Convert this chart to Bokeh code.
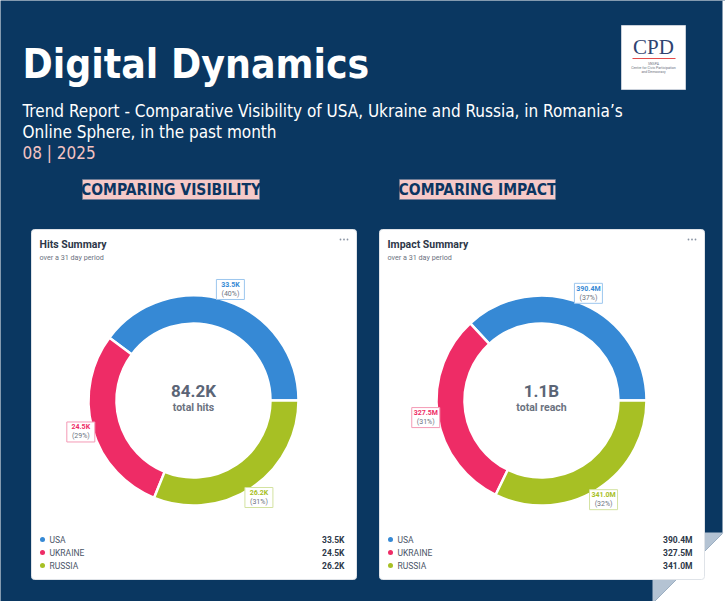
import numpy as np
from bokeh.plotting import figure
from bokeh.models import ColumnDataSource, Label, BoxAnnotation, PolyAnnotation
from bokeh.core.properties import value
from bokeh.embed import file_html
from bokeh.resources import INLINE

W, H = 725, 601
NAVY = "#0a3761"

# Series shared by both cards
countries = ["USA", "UKRAINE", "RUSSIA"]
country_colors = ["#3689d5", "#ee2c66", "#a7c024"]
box_borders = ["#9cc6ee", "#f49ab5", "#d3e2a0"]

# Hits (thousands)
hits_k = [33.5, 24.5, 26.2]
hits_text = ["33.5K", "24.5K", "26.2K"]
hits_total = "84.2K"

# Reach (millions)
reach_m = [390.4, 327.5, 341.0]
reach_text = ["390.4M", "327.5M", "341.0M"]
reach_total = "1.1B"

HEAD_FONT = "DejaVu Sans Condensed"
UI_FONT = "Roboto"


def Y(y):
    # page coordinates run top-down, the plot's y axis runs bottom-up
    return H - y


p = figure(width=W, height=H, x_range=(0, W), y_range=(0, H),
           output_backend="svg", toolbar_location=None,
           x_axis_location=None, y_axis_location=None, min_border=0)
p.grid.visible = False
p.outline_line_color = None
p.background_fill_color = NAVY
p.border_fill_color = NAVY


def label(x, y, text, size, color, font=UI_FONT, style="normal",
          align="left", baseline="middle"):
    p.add_layout(Label(x=x, y=Y(y), text=text, text_font=font,
                       text_font_size=f"{size}px", text_font_style=style,
                       text_color=color, text_align=align,
                       text_baseline=baseline))


# page edge and folded corner
p.add_layout(BoxAnnotation(left=722, right=W, top=H, bottom=0,
                           fill_color="white", fill_alpha=1, line_alpha=0,
                           level="underlay"))
p.add_layout(PolyAnnotation(xs=[723, W, W, 654], ys=[Y(532), Y(532), 0, 0],
                            fill_color="white", fill_alpha=1, line_alpha=0,
                            level="underlay"))
p.add_layout(PolyAnnotation(xs=[652, 723, 652], ys=[Y(532), Y(532), Y(603)],
                            fill_color="#b4c3d3", fill_alpha=1, line_alpha=0,
                            level="underlay"))

# Header
label(22, 63, "Digital Dynamics", 40.5, "white", HEAD_FONT, "bold")
label(22, 110, "Trend Report - Comparative Visibility of USA, Ukraine and Russia, in Romania\u2019s",
      17, "white", HEAD_FONT)
label(22, 131, "Online Sphere, in the past month", 17, "white", HEAD_FONT)
label(22, 152, "08 | 2025", 17, "#f3c3c1", HEAD_FONT)

# CPD logo
p.add_layout(BoxAnnotation(left=621, right=685, top=Y(25), bottom=Y(89),
                           fill_color="white", fill_alpha=1,
                           line_color="#c9d0da", line_alpha=1, line_width=1,
                           level="underlay"))
label(653, 46, "CPD", 21, "#2f4371", "Liberation Serif", "normal", "center")
p.line(x=[632, 675], y=[Y(58), Y(58)], line_color="#e24a4a", line_width=1)
label(653, 63, "SNSPA", 3.5, "#6b7280", align="center")
label(653, 67, "Centre for Civic Participation", 3.5, "#6b7280", align="center")
label(653, 71, "and Democracy", 3.5, "#6b7280", align="center")

# Section headings
for left, right, text in [(82, 259, "COMPARING VISIBILITY"),
                          (399, 555, "COMPARING IMPACT")]:
    p.add_layout(BoxAnnotation(left=left, right=right, top=Y(179), bottom=Y(199),
                               fill_color="#f5c9c8", fill_alpha=1,
                               line_color="#6d7c96", line_alpha=1, line_width=0.8,
                               level="underlay"))
    label((left + right) / 2, 189.5, text, 15.5, "#0b3561", HEAD_FONT, "bold", "center")


def card(x0, title, vals, val_text, total, caption):
    top, bottom = 229, 579
    p.add_layout(BoxAnnotation(left=x0, right=x0 + 325, top=Y(top), bottom=Y(bottom),
                               fill_color="white", fill_alpha=1,
                               line_color="#dfe3e8", line_alpha=1, line_width=1,
                               border_radius=3, level="underlay"))
    label(x0 + 8, 244, title, 10.5, "#2d3748", style="bold")
    label(x0 + 8, 257, "over a 31 day period", 7.2, "#6b7280")
    p.scatter(x=[x0 + 309, x0 + 312.5, x0 + 316], y=[Y(239)] * 3, size=1.8,
              fill_color="#8a94a3", line_color=None)

    cx, cy = x0 + 162, 400
    v = np.array(vals, dtype=float)
    frac = v / v.sum()
    ends = 2 * np.pi * np.cumsum(frac)
    starts = ends - 2 * np.pi * frac
    mids = (starts + ends) / 2
    pct = [f"({round(f * 100)}%)" for f in frac]

    ring = ColumnDataSource(dict(start=starts, end=ends, color=country_colors))
    p.annular_wedge(x=cx, y=Y(cy), inner_radius=77, outer_radius=105,
                    start_angle="start", end_angle="end", direction="anticlock",
                    fill_color="color", line_color="white", line_width=2.5,
                    source=ring)

    r_lab = 117
    bx = cx + r_lab * np.cos(mids)
    by = Y(cy) + r_lab * np.sin(mids)
    tags = ColumnDataSource(dict(x=bx, y=by, top=by + 4.5, bot=by - 4.5,
                                 val=val_text, pct=pct, color=country_colors,
                                 border=box_borders))
    p.rect(x="x", y="y", width=28, height=20, width_units="screen",
           height_units="screen", fill_color="white", line_color="border",
           line_width=1, source=tags)
    p.text(x="x", y="top", text="val", text_color="color", source=tags,
           text_font=value(UI_FONT), text_font_size=value("7px"),
           text_font_style="bold", text_align="center", text_baseline="middle")
    p.text(x="x", y="bot", text="pct", text_color="#6b7280", source=tags,
           text_font=value(UI_FONT), text_font_size=value("7px"),
           text_align="center", text_baseline="middle")

    label(cx, cy - 10, total, 17, "#5b6576", style="bold", align="center")
    label(cx, cy + 7, caption, 10.5, "#6b7280", style="bold", align="center")

    rows = Y(np.array([539, 552, 565]))
    legend = ColumnDataSource(dict(y=rows, name=countries, val=val_text,
                                   color=country_colors))
    p.scatter(x=x0 + 11, y="y", size=5, fill_color="color", line_color=None,
              source=legend)
    p.text(x=x0 + 18, y="y", text="name", text_color="#4a5568", source=legend,
           text_font=value(UI_FONT), text_font_size=value("8.5px"),
           text_baseline="middle")
    p.text(x=x0 + 313, y="y", text="val", text_color="#2d3748", source=legend,
           text_font=value(UI_FONT), text_font_size=value("8.5px"),
           text_font_style="bold", text_align="right", text_baseline="middle")


card(31, "Hits Summary", hits_k, hits_text, hits_total, "total hits")
card(379, "Impact Summary", reach_m, reach_text, reach_total, "total reach")

open("out.html", "w").write(file_html(p, INLINE))
